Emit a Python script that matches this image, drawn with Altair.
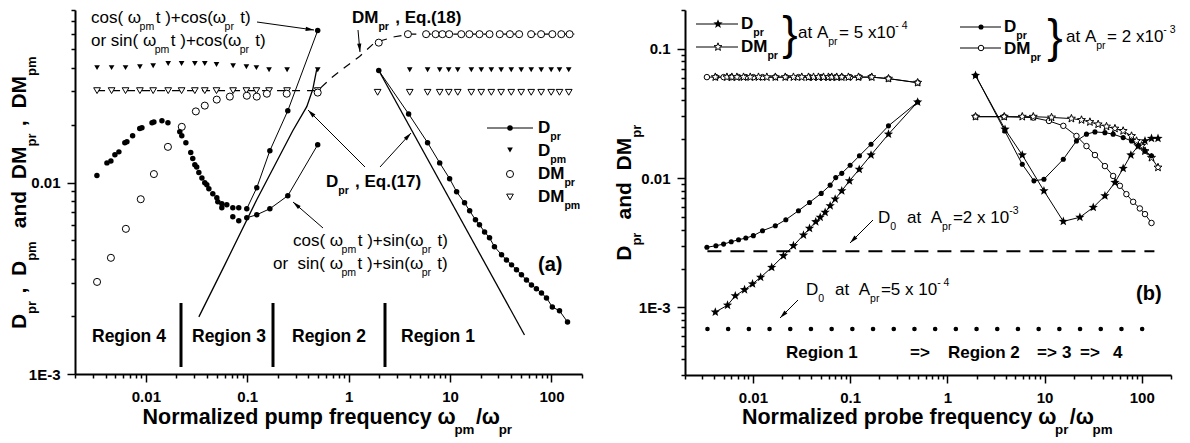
import math
import altair as alt
import pandas as pd

FONT = "Liberation Sans"

# ================= panel (a) : pump frequency =================
# D_pr, regions 4-3 (symbols only)
A_DPR_X = [0.00329, 0.00413, 0.00452, 0.00495, 0.00542, 0.0062, 0.0065, 0.0074, 0.0087, 0.00914,
           0.0115, 0.012, 0.0144, 0.0165, 0.0216, 0.0226, 0.0248, 0.0277, 0.029, 0.0304,
           0.0317, 0.0333, 0.0357, 0.0381, 0.0399, 0.0418, 0.0457, 0.0501, 0.0512, 0.0561,
           0.0628, 0.072, 0.0824, 0.0561, 0.072, 0.0824]
A_DPR_Y = [0.0109, 0.0127, 0.0130, 0.0140, 0.0145, 0.0162, 0.0164, 0.0176, 0.0192, 0.0194,
           0.0206, 0.0208, 0.0211, 0.0206, 0.0185, 0.0176, 0.0162, 0.0144, 0.0134, 0.0124,
           0.0121, 0.0113, 0.0106, 0.0100, 0.00977, 0.00930, 0.00875, 0.00834, 0.00796, 0.00777,
           0.00767, 0.00739, 0.00739, 0.00739, 0.00664, 0.00633]
# D_pr, cos+cos branch
A_CC_X = [0.0989, 0.124, 0.167, 0.251, 0.495]
A_CC_Y = [0.00731, 0.00941, 0.0147, 0.0238, 0.0625]
# D_pr, cos+sin branch
A_CS_X = [0.0989, 0.124, 0.167, 0.251, 0.495]
A_CS_Y = [0.00656, 0.0068, 0.00731, 0.00855, 0.0158]
# D_pr, region 1
A_R1_X = [1.98, 3.9, 6.0, 7.9, 9.9, 11.6, 13.9, 15.6, 17.8, 19.5, 21.9, 24.5, 27.4, 32.2, 36,
          40.4, 45.2, 50.6, 56.7, 63.5, 71, 79.7, 89.3, 102, 120, 144]
A_R1_Y = [0.0386, 0.0229, 0.0162, 0.0127, 0.0105, 0.00897, 0.00785, 0.00713, 0.0064, 0.00603,
          0.00553, 0.00515, 0.00463, 0.0042, 0.00395, 0.00372, 0.00351, 0.0033, 0.0031, 0.00292,
          0.00279, 0.00265, 0.0025, 0.00224, 0.00214, 0.00187]
# D_pm
A_DPM_X = [0.0033, 0.00459, 0.0063, 0.00873, 0.0118, 0.0166, 0.0225, 0.0304, 0.0381, 0.0497,
           0.0725, 0.098, 0.123, 0.164, 0.247, 0.495,
           4.0, 6.0, 7.9, 9.7, 11.9, 16.2, 20.3, 25.5, 31.9, 40.1, 50.3, 63.1, 79.2, 99.3, 120, 148]
A_DPM_Y = [0.040, 0.040, 0.040, 0.0404, 0.0409, 0.042, 0.042, 0.042, 0.042, 0.0415,
           0.0409, 0.0404, 0.040, 0.039, 0.039, 0.039,
           0.039, 0.039, 0.039, 0.039, 0.039, 0.039, 0.039, 0.039, 0.039, 0.039, 0.039, 0.039,
           0.039, 0.039, 0.039, 0.039]
# DM_pm
A_DMPM_X = [0.0033, 0.00459, 0.0063, 0.00873, 0.0118, 0.0166, 0.0225, 0.0304, 0.0381, 0.0497,
            0.0725, 0.098, 0.123, 0.164, 0.247, 0.495, 1.93,
            4.0, 6.0, 7.9, 9.7, 11.9, 16.2, 20.3, 25.5, 31.9, 40.1, 50.3, 63.1, 79.2, 99.3, 120, 148]
A_DMPM_Y = [0.0303] * 16 + [0.0297] * 17
# DM_pr
A_DMPR_X = [0.0033, 0.00452, 0.00635, 0.0089, 0.012, 0.0165, 0.0226, 0.0311, 0.0381, 0.05,
            0.0673, 0.099, 0.124, 0.156, 0.245, 0.495, 1.98,
            3.84, 5.8, 7.2, 8.4, 9.8, 12.9, 15.5, 19.5, 24.5, 30.9, 38.9, 48, 63, 79, 102, 125, 151]
A_DMPR_Y = [0.00303, 0.00405, 0.00574, 0.0082, 0.0111, 0.0154, 0.0196, 0.0236, 0.0253, 0.0272,
            0.0282, 0.0285, 0.0282, 0.0292, 0.0292, 0.0296, 0.054] + [0.0598] * 17
# Eq.(18) for DM_pr (dashed)
A_EQ18_X = [0.0033, 0.495, 0.68, 0.934, 1.28, 1.8, 2.84, 3.99, 168]
A_EQ18_Y = [0.0303, 0.0303, 0.0355, 0.0404, 0.0457, 0.054, 0.058, 0.0598, 0.0598]
# Eq.(17) for D_pr
A_EQ17A_X = [0.0333, 0.060, 0.124, 0.281, 0.386, 0.442, 0.484]
A_EQ17A_Y = [0.00199, 0.00372, 0.00815, 0.0187, 0.025, 0.0307, 0.0391]
A_EQ17B_X = [1.98, 54.2]
A_EQ17B_Y = [0.0386, 0.0016]

# ================= panel (b) : probe frequency =================
# D_pr at A_pr = 5e-4 (filled stars)
B_S5_LO_X = [0.0041, 0.00548, 0.00658, 0.0082, 0.0099, 0.012, 0.0156, 0.0206, 0.0261, 0.0331,
             0.0382, 0.0443, 0.0492, 0.0553, 0.0623, 0.0701, 0.082, 0.0984, 0.124, 0.164, 0.248, 0.495]
B_S5_LO_Y = [0.00092, 0.00104, 0.00123, 0.00137, 0.00152, 0.00171, 0.00204, 0.00251, 0.0030, 0.00363,
             0.00409, 0.0046, 0.00498, 0.00544, 0.00611, 0.00689, 0.00798, 0.00953, 0.0117, 0.0151,
             0.0219, 0.0388]
B_S5_HI_X = [1.95, 3.92, 5.9, 9.86, 15.6, 23.1, 31.7, 41.8, 53, 64.4, 77.3, 91.9, 108, 126, 147]
B_S5_HI_Y = [0.0623, 0.0239, 0.0151, 0.00798, 0.00463, 0.00498, 0.00594, 0.0073, 0.00926, 0.0119,
             0.0151, 0.0177, 0.0194, 0.0203, 0.0203]
# DM_pr at A_pr = 5e-4 (open stars)
B_OS5_LO_X = [0.0041, 0.0054, 0.00607, 0.00684, 0.008, 0.00938, 0.0114, 0.0139, 0.017, 0.0215,
              0.0261, 0.0318, 0.0373, 0.042, 0.0472, 0.0532, 0.0598, 0.0647, 0.0728, 0.082,
              0.096, 0.122, 0.167, 0.248, 0.495]
B_OS5_LO_Y = [0.0605] * 23 + [0.0589, 0.0548]
B_OS5_HI_X = [1.95, 3.85, 5.9, 7.66, 11.8, 18.9, 24, 29.3, 35.6, 43.4, 53, 64.4, 78.5, 88.4,
              99.5, 108, 126, 147]
B_OS5_HI_Y = [0.0299, 0.0299, 0.0299, 0.0299, 0.0295, 0.0289, 0.0282, 0.0272, 0.0261, 0.0251,
              0.0242, 0.0232, 0.0212, 0.0194, 0.0178, 0.0162, 0.0144, 0.0121]
# D_pr at A_pr = 2e-3 (filled circles)
B_C2_LO_X = [0.00336, 0.00416, 0.00499, 0.00598, 0.00711, 0.00845, 0.0101, 0.01255, 0.017, 0.0218,
             0.0294, 0.0382, 0.0504, 0.0623, 0.0711, 0.082, 0.1, 0.1247, 0.164, 0.248, 0.495]
B_C2_LO_Y = [0.00292, 0.0030, 0.00309, 0.00322, 0.00334, 0.00344, 0.00359, 0.00392, 0.00428, 0.00477,
             0.0056, 0.00649, 0.00762, 0.00883, 0.0101, 0.0109, 0.0126, 0.0149, 0.0183, 0.0254, 0.0388]
B_C2_HI_X = [1.95, 3.9, 5.9, 7.78, 9.86, 15.6, 21.3, 27, 33, 41.8, 50.8, 64.4, 78.5, 91.9, 108, 126]
B_C2_HI_Y = [0.0623, 0.0232, 0.0128, 0.00953, 0.0098, 0.014, 0.0194, 0.0219, 0.0228, 0.0225,
             0.0219, 0.0206, 0.0194, 0.0178, 0.0162, 0.0149]
# DM_pr at A_pr = 2e-3 (open circles)
B_OC2_LO_X = B_C2_LO_X
B_OC2_LO_Y = [0.0605] * 19 + [0.0589, 0.0548]
B_OC2_HI_X = [1.95, 3.85, 7.66, 11.1, 15.6, 21.3, 27, 33, 41.8, 50.8, 59.6, 69.5, 81.6, 95.6, 108, 126]
B_OC2_HI_Y = [0.0299, 0.0299, 0.0294, 0.0277, 0.0254, 0.0212, 0.0177, 0.0151, 0.0124, 0.0104,
              0.00873, 0.00752, 0.00656, 0.00583, 0.00527, 0.0045]
# D0 levels
B_D0_X = [0.0034, 135]
B_D0_2E3 = 0.00272
B_D0_5E4 = 0.000682

XDOM = [0.002, 200]
YDOM_A = [0.001, 0.08]
YDOM_B = [0.0003, 0.2]

# ---------------------------------------------------------------
STAR = "M0,-1L0.247,-0.34L0.951,-0.309L0.399,0.13L0.588,0.809L0,0.42L-0.588,0.809L-0.399,0.13L-0.951,-0.309L-0.247,-0.34Z"
HEAD = "M0,-1L0.5,1L-0.5,1Z"

DECADE = "abs(log(datum.value)/LN10 - round(log(datum.value)/LN10)) < 1e-6"
LABEL = DECADE + " ? (datum.value < 0.005 ? '1E-3' : format(datum.value, '~g')) : ''"


def tick_values(lo, hi):
    vals = []
    for e in range(-5, 4):
        for m in range(1, 10):
            v = float(f"{m}e{e}")
            if lo * (1 - 1e-9) <= v <= hi * (1 + 1e-9):
                vals.append(v)
    return vals


def axis(vals, orient):
    return alt.Axis(values=vals, orient=orient, labelExpr=LABEL,
                    tickSize={"condition": {"test": DECADE, "value": 8}, "value": 4},
                    tickWidth=1.5, tickColor="black", domainColor="black", domainWidth=2,
                    labelFont=FONT, labelFontWeight="bold", labelFontSize=15, labelColor="black",
                    labelPadding=7, labelOverlap=False, grid=False, title=None)


XSC = alt.Scale(type="log", domain=XDOM, nice=False)
X_AX = axis(tick_values(*XDOM), "bottom")


def enc(ysc, yax):
    return dict(x=alt.X("x:Q", scale=XSC, axis=X_AX), y=alt.Y("y:Q", scale=ysc, axis=yax))


def frame(xs, ys):
    return pd.DataFrame({"x": xs, "y": ys})


def line(xs, ys, yy, **kw):
    props = dict(color="black", strokeWidth=1)
    props.update(kw)
    return alt.Chart(frame(xs, ys)).mark_line(**props).encode(**enc(*yy))


def sym(xs, ys, yy, shape, size, hollow=False, sw=1.0):
    c = alt.Chart(frame(xs, ys))
    if hollow:
        m = c.mark_point(shape=shape, size=size, filled=True, fill="white", stroke="black",
                         strokeWidth=sw, opacity=1)
    else:
        m = c.mark_point(shape=shape, size=size, filled=True, color="black", strokeWidth=0, opacity=1)
    return m.encode(**enc(*yy))


# ---------------- rich text helpers (sub/superscripts) ----------------
W_R = {' ': 278, '(': 333, ')': 333, '+': 584, ',': 278, '-': 333, '.': 278, '/': 278, '=': 584,
       '>': 584, '}': 334, 'A': 667, 'D': 722, 'E': 667, 'M': 833, 'N': 722, 'R': 722,
       'a': 556, 'b': 556, 'c': 500, 'd': 556, 'e': 556, 'f': 278, 'g': 556, 'i': 222, 'l': 222,
       'm': 833, 'n': 556, 'o': 556, 'p': 556, 'q': 556, 'r': 333, 's': 500, 't': 278, 'u': 556,
       'x': 500, 'y': 500, 'z': 500, 'ω': 690}
W_B = {' ': 278, '(': 333, ')': 333, '+': 584, ',': 278, '-': 333, '.': 278, '/': 278, '=': 584,
       '>': 584, '}': 389, 'A': 722, 'D': 722, 'E': 667, 'M': 833, 'N': 722, 'R': 722,
       'a': 556, 'b': 611, 'c': 556, 'd': 611, 'e': 556, 'f': 333, 'g': 611, 'i': 278, 'l': 278,
       'm': 889, 'n': 611, 'o': 611, 'p': 611, 'q': 611, 'r': 389, 's': 556, 't': 333, 'u': 611,
       'x': 556, 'y': 556, 'z': 500, 'ω': 780}


def tw(s, size, bold):
    tbl = W_B if bold else W_R
    return sum(tbl.get(c, 556) for c in s) * size / 1000.0


def rich(rows, x, y, segs, size, bold=False, anchor="left", angle=0):
    parts = [(s, "n") if isinstance(s, str) else s for s in segs]

    def ssz(k):
        return size if k == "n" else size * 0.62

    gap = 1.5
    total = sum(tw(t, ssz(k), bold) + (gap if k != "n" else 0) for t, k in parts)
    cur = -total / 2 if anchor == "center" else 0.0
    for t, k in parts:
        s = ssz(k)
        off = 0.0 if k == "n" else (0.55 * size if k == "sub" else -0.42 * size)
        sp = tw(" ", s, bold)
        for i, w in enumerate(t.split(" ")):
            if i > 0:
                cur += sp
            if w:
                if angle == 0:
                    rows.append(dict(px=x + cur, py=y + off, text=w, fs=s, ang=0, bold=bold))
                else:
                    rows.append(dict(px=x + off, py=y - cur, text=w, fs=s, ang=270, bold=bold))
                cur += tw(w, s, bold)
        if k != "n":
            cur += gap


def arrow(rules, heads, x1, y1, x2, y2):
    rules.append(dict(x1=x1, y1=y1, x2=x2, y2=y2, w=1.0))
    dx, dy = x2 - x1, y2 - y1
    L = math.hypot(dx, dy)
    ux, uy = dx / L, dy / L
    heads.append(dict(hx=x2 - ux * 4.2, hy=y2 - uy * 4.2, ang=math.degrees(math.atan2(dx, -dy)) % 360))


def ann_layers(texts, rules, heads, syms, ox, oy):
    out = []
    P = lambda f: alt.X(f"{f}:Q", scale=None, axis=None)
    Q = lambda f: alt.Y(f"{f}:Q", scale=None, axis=None)
    if rules:
        d = pd.DataFrame(rules)
        d["x1"] -= ox; d["x2"] -= ox; d["y1"] -= oy; d["y2"] -= oy
        for w, g in d.groupby("w"):
            out.append(alt.Chart(g).mark_rule(color="black", strokeWidth=float(w)).encode(
                x=P("x1"), y=Q("y1"), x2="x2:Q", y2="y2:Q"))
    if syms:
        d = pd.DataFrame(syms)
        d["sx"] -= ox; d["sy"] -= oy
        for (shape, size, hollow), g in d.groupby(["shape", "size", "hollow"]):
            if hollow:
                m = alt.Chart(g).mark_point(shape=shape, size=float(size), filled=True, fill="white",
                                            stroke="black", strokeWidth=1, opacity=1)
            else:
                m = alt.Chart(g).mark_point(shape=shape, size=float(size), filled=True, color="black",
                                            strokeWidth=0, opacity=1)
            out.append(m.encode(x=P("sx"), y=Q("sy")))
    if heads:
        d = pd.DataFrame(heads)
        d["hx"] -= ox; d["hy"] -= oy
        out.append(alt.Chart(d).mark_point(shape=HEAD, size=70, filled=True, color="black",
                                           strokeWidth=0, opacity=1).encode(
            x=P("hx"), y=Q("hy"), angle=alt.Angle("ang:Q", scale=None)))
    if texts:
        d = pd.DataFrame(texts)
        d["px"] -= ox; d["py"] -= oy
        for bold, g in d.groupby("bold"):
            out.append(alt.Chart(g.drop(columns=["bold"])).mark_text(
                align="left", baseline="middle", font=FONT, color="black",
                fontWeight="bold" if bold else "normal").encode(
                x=P("px"), y=Q("py"), text="text:N",
                size=alt.Size("fs:Q", scale=None), angle=alt.Angle("ang:Q", scale=None)))
    return out


# ======================= panel (a) =======================
OAX, OAY = 75, 10
YA = (alt.Scale(type="log", domain=YDOM_A, nice=False), axis(tick_values(*YDOM_A), "left"))

ta, ra, ha, sa = [], [], [], []
rich(ta, 91, 18, ["cos( ω", ("pm", "sub"), "t )+cos(ω", ("pr", "sub"), " t)"], 17)
rich(ta, 91, 41, ["or sin( ω", ("pm", "sub"), "t )+cos(ω", ("pr", "sub"), " t)"], 17)
rich(ta, 352, 18, ["DM", ("pr", "sub"), " , Eq.(18)"], 17, bold=True)
rich(ta, 326, 182, ["D", ("pr", "sub"), " , Eq.(17)"], 17, bold=True)
rich(ta, 293, 241, ["cos( ω", ("pm", "sub"), "t )+sin(ω", ("pr", "sub"), " t)"], 17)
rich(ta, 273, 264, ["or  sin( ω", ("pm", "sub"), "t )+sin(ω", ("pr", "sub"), " t)"], 17)
rich(ta, 538, 265, ["(a)"], 20, bold=True)
for lx, lab in [(92, "Region 4"), (192, "Region 3"), (292, "Region 2"), (401, "Region 1")]:
    rich(ta, lx, 337, [lab], 17.5, bold=True)
for ly, segs in [(128, ["D", ("pr", "sub")]), (151, ["D", ("pm", "sub")]),
                 (174, ["DM", ("pr", "sub")]), (197, ["DM", ("pm", "sub")])]:
    rich(ta, 538, ly, segs, 17, bold=True)
rich(ta, 20, 192, ["D", ("pr", "sub"), " ,  D", ("pm", "sub"), "  and  DM", ("pr", "sub"),
                   " ,  DM", ("pm", "sub")], 21, bold=True, anchor="center", angle=270)
rich(ta, 328, 418, ["Normalized pump frequency ω", ("pm", "sub"), "/ω", ("pr", "sub")],
     21.5, bold=True, anchor="center")

arrow(ra, ha, 257, 22, 314, 30)
arrow(ra, ha, 358, 30, 360, 52)
arrow(ra, ha, 365, 167, 308, 110)
arrow(ra, ha, 380, 167, 411, 133)
arrow(ra, ha, 323, 228, 293, 202)
for sx in (181, 273, 385):
    ra.append(dict(x1=sx, y1=303, x2=sx, y2=367, w=3.0))
ra.append(dict(x1=487, y1=128, x2=533, y2=128, w=1.0))
sa += [dict(sx=510, sy=128, shape="circle", size=30, hollow=False),
       dict(sx=510, sy=150, shape="triangle-down", size=32, hollow=False),
       dict(sx=510, sy=174, shape="circle", size=50, hollow=True),
       dict(sx=510, sy=197, shape="triangle-down", size=45, hollow=True)]

layers_a = [
    line(A_EQ18_X, A_EQ18_Y, YA, strokeWidth=1.2, strokeDash=[8, 7]),
    line(A_EQ17A_X, A_EQ17A_Y, YA, strokeWidth=1.3),
    line(A_EQ17B_X, A_EQ17B_Y, YA, strokeWidth=1.3),
    line(A_CC_X, A_CC_Y, YA),
    line(A_CS_X, A_CS_Y, YA),
    line(A_R1_X, A_R1_Y, YA),
    sym(A_DMPM_X, A_DMPM_Y, YA, "triangle-down", 45, hollow=True),
    sym(A_DMPR_X, A_DMPR_Y, YA, "circle", 50, hollow=True),
    sym(A_DPM_X, A_DPM_Y, YA, "triangle-down", 32),
    sym(A_DPR_X, A_DPR_Y, YA, "circle", 30),
    sym(A_CC_X, A_CC_Y, YA, "circle", 30),
    sym(A_CS_X, A_CS_Y, YA, "circle", 30),
    sym(A_R1_X, A_R1_Y, YA, "circle", 30),
] + ann_layers(ta, ra, ha, sa, OAX, OAY)

# ======================= panel (b) =======================
OBX, OBY = 687, 10
YB = (alt.Scale(type="log", domain=YDOM_B, nice=False), axis(tick_values(*YDOM_B), "left"))

tb, rb, hb, sb = [], [], [], []
rich(tb, 743, 24, ["D", ("pr", "sub")], 17, bold=True)
rich(tb, 743, 47, ["DM", ("pr", "sub")], 17, bold=True)
rich(tb, 792 - tw("}", 46, False) / 2, 35, ["}"], 46)
rich(tb, 800, 33, ["at A", ("pr", "sub"), "= 5 x10", ("- 4", "sup")], 17)
rich(tb, 1006, 27, ["D", ("pr", "sub")], 17, bold=True)
rich(tb, 1006, 49, ["DM", ("pr", "sub")], 17, bold=True)
rich(tb, 1057 - tw("}", 46, False) / 2, 38, ["}"], 46)
rich(tb, 1068, 37, ["at A", ("pr", "sub"), "= 2 x10", ("- 3", "sup")], 17)
rich(tb, 880, 218, ["D", ("0", "sub"), "  at  A", ("pr", "sub"), "=2 x 10", ("-3", "sup")], 17)
rich(tb, 808, 290, ["D", ("0", "sub"), "  at  A", ("pr", "sub"), "=5 x 10", ("- 4", "sup")], 17)
rich(tb, 1138, 294, ["(b)"], 20, bold=True)
for lx, lab in [(788, "Region 1"), (912, "=>"), (950, "Region 2"), (1039, "=>"), (1064, "3"),
                (1082, "=>"), (1115, "4")]:
    rich(tb, lx, 353, [lab], 17, bold=True)
rich(tb, 627, 192, ["D", ("pr", "sub"), "  and  DM", ("pr", "sub")], 21, bold=True,
     anchor="center", angle=270)
rich(tb, 930, 418, ["Normalized probe frequency ω", ("pr", "sub"), "/ω", ("pm", "sub")],
     21.5, bold=True, anchor="center")

arrow(rb, hb, 875, 220, 852, 243)
arrow(rb, hb, 800, 300, 782, 318)
rb += [dict(x1=698, y1=24, x2=740, y2=24, w=1.0), dict(x1=698, y1=47, x2=740, y2=47, w=1.0),
       dict(x1=962, y1=27, x2=1003, y2=27, w=1.0), dict(x1=962, y1=48, x2=1003, y2=48, w=1.0)]
sb += [dict(sx=720, sy=24, shape=STAR, size=95, hollow=False),
       dict(sx=720, sy=47, shape=STAR, size=70, hollow=True),
       dict(sx=983, sy=27, shape="circle", size=26, hollow=False),
       dict(sx=983, sy=48, shape="circle", size=30, hollow=True)]

layers_b = [
    line(B_D0_X, [B_D0_2E3] * 2, YB, strokeWidth=2, strokeDash=[14, 9]),
    line(B_D0_X, [B_D0_5E4] * 2, YB, strokeWidth=4.5, strokeDash=[0.1, 20.6], strokeCap="round"),
    line(B_OS5_LO_X, B_OS5_LO_Y, YB), line(B_OS5_HI_X, B_OS5_HI_Y, YB),
    line(B_OC2_LO_X, B_OC2_LO_Y, YB), line(B_OC2_HI_X, B_OC2_HI_Y, YB),
    line(B_S5_LO_X, B_S5_LO_Y, YB), line(B_S5_HI_X, B_S5_HI_Y, YB),
    line(B_C2_LO_X, B_C2_LO_Y, YB), line(B_C2_HI_X, B_C2_HI_Y, YB),
    sym(B_OC2_LO_X, B_OC2_LO_Y, YB, "circle", 30, hollow=True),
    sym(B_OC2_HI_X, B_OC2_HI_Y, YB, "circle", 30, hollow=True),
    sym(B_OS5_LO_X, B_OS5_LO_Y, YB, STAR, 70, hollow=True),
    sym(B_OS5_HI_X, B_OS5_HI_Y, YB, STAR, 70, hollow=True),
    sym(B_C2_LO_X, B_C2_LO_Y, YB, "circle", 26),
    sym(B_C2_HI_X, B_C2_HI_Y, YB, "circle", 26),
    sym(B_S5_LO_X, B_S5_LO_Y, YB, STAR, 95),
    sym(B_S5_HI_X, B_S5_HI_Y, YB, STAR, 95),
] + ann_layers(tb, rb, hb, sb, OBX, OBY)

left = alt.layer(*layers_a).properties(width=507, height=364)
right = alt.layer(*layers_b).properties(width=486, height=365)

chart = (alt.hconcat(left, right, spacing=31)
         .properties(padding={"left": 0, "top": -5, "right": 0, "bottom": 0}, background="white")
         .configure_view(stroke=None))

chart.save("out.html", embed_options={"renderer": "svg", "actions": False})
